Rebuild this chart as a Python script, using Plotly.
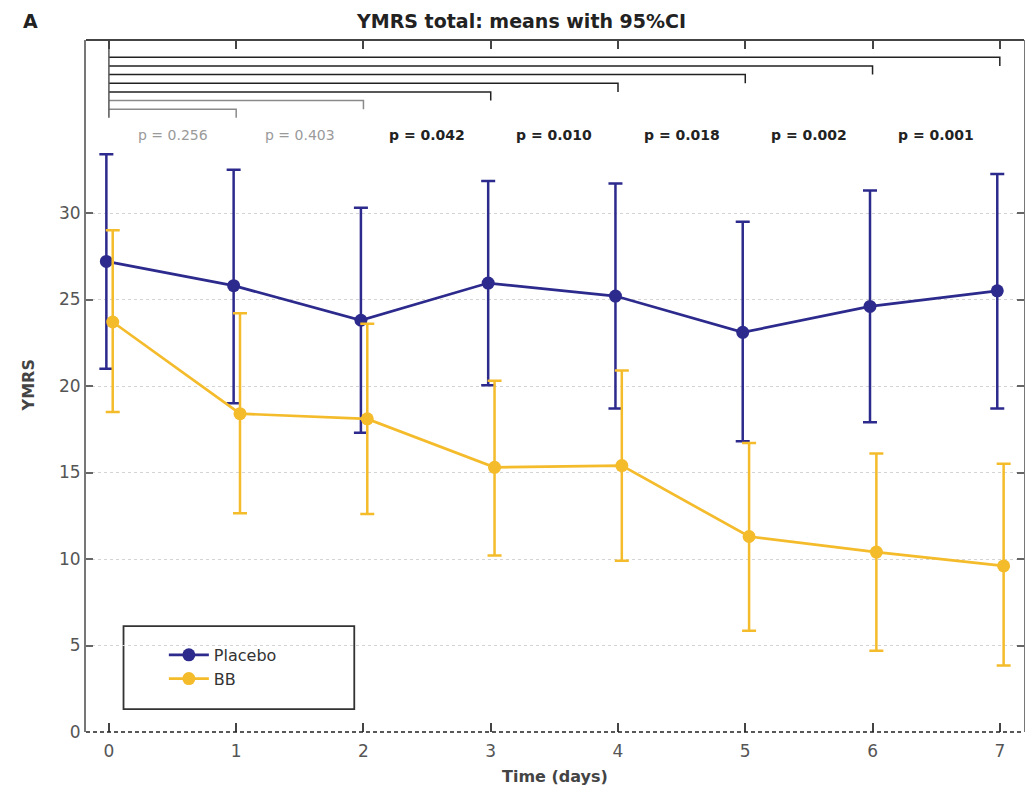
import plotly.graph_objects as go

# ---- data ----
days = [0, 1, 2, 3, 4, 5, 6, 7]
placebo_mean = [27.2, 25.8, 23.8, 25.95, 25.2, 23.1, 24.6, 25.5]
placebo_upper = [33.4, 32.5, 30.3, 31.85, 31.7, 29.5, 31.3, 32.25]
placebo_lower = [21.0, 19.0, 17.3, 20.05, 18.7, 16.8, 17.9, 18.7]
bb_mean = [23.7, 18.4, 18.1, 15.3, 15.4, 11.3, 10.4, 9.6]
bb_upper = [29.0, 24.2, 23.6, 20.3, 20.9, 16.7, 16.1, 15.5]
bb_lower = [18.5, 12.65, 12.6, 10.2, 9.9, 5.85, 4.7, 3.85]

compare_days = [1, 2, 3, 4, 5, 6, 7]
p_labels = ["p = 0.256", "p = 0.403", "p = 0.042", "p = 0.010", "p = 0.018", "p = 0.002", "p = 0.001"]
p_values = [0.256, 0.403, 0.042, 0.010, 0.018, 0.002, 0.001]
bracket_levels = [36.0, 36.5, 37.0, 37.5, 38.0, 38.5, 39.0]

y_ticks = [0, 5, 10, 15, 20, 25, 30]

# ---- style ----
BLUE = "#2c2a8c"
GOLD = "#f4bb2b"
FONT = "DejaVu Sans, Liberation Sans, Arial, sans-serif"
X0, X1 = -0.18, 7.19
Y0, Y1 = 0, 40
drop = 0.5
p_y = 34.5
placebo_off = -0.02
bb_off = 0.03

fig = go.Figure()

# brackets
for d, lvl, pv in zip(compare_days, bracket_levels, p_values):
    col = "#222222" if pv < 0.05 else "#8a8a8a"
    fig.add_trace(go.Scatter(
        x=[days[0], d, d], y=[lvl, lvl, lvl - drop], mode="lines",
        line=dict(color=col, width=1.5), showlegend=False, hoverinfo="skip"))
fig.add_trace(go.Scatter(
    x=[days[0], days[0]], y=[Y1, min(bracket_levels) - drop], mode="lines",
    line=dict(color="#555555", width=1.5), showlegend=False, hoverinfo="skip"))

def add_series(name, mean, up, lo, color, off):
    xs = [d + off for d in days]
    fig.add_trace(go.Scatter(
        x=xs, y=mean, name=name, mode="lines+markers",
        line=dict(color=color, width=2.7),
        marker=dict(color=color, size=13),
        error_y=dict(type="data", symmetric=False,
                     array=[u - m for u, m in zip(up, mean)],
                     arrayminus=[m - l for m, l in zip(mean, lo)],
                     color=color, thickness=2.5, width=7),
    ))

add_series("Placebo", placebo_mean, placebo_upper, placebo_lower, BLUE, placebo_off)
add_series("BB", bb_mean, bb_upper, bb_lower, GOLD, bb_off)

# p-value labels
for d, lab, pv in zip(compare_days, p_labels, p_values):
    sig = pv < 0.05
    fig.add_annotation(
        x=d - 0.5, y=p_y, xref="x", yref="y", showarrow=False,
        text=f"<b>{lab}</b>" if sig else lab,
        font=dict(family=FONT, size=14, color="#222222" if sig else "#9a9a9a"))

# frame lines
shapes = [
    dict(type="line", xref="paper", yref="paper", x0=0, x1=1, y0=1, y1=1,
         line=dict(color="#444444", width=2)),
    dict(type="line", xref="paper", yref="paper", x0=0, x1=1, y0=0, y1=0,
         line=dict(color="#222222", width=1.5, dash="4px,3px")),
    # legend box
    dict(type="rect", xref="paper", yref="paper", x0=0.040, x1=0.286, y0=0.033, y1=0.153,
         line=dict(color="#333333", width=1.8), fillcolor="white", layer="below"),
]

# page body has an 8px margin: figure is sized/margined so the plot area
# lands at x 86..1026, y 40..732 of the window
fig.update_layout(
    width=1025, height=785,
    margin=dict(l=78, r=7, t=32, b=61),
    paper_bgcolor="white", plot_bgcolor="white",
    font=dict(family=FONT, color="#555555"),
    shapes=shapes,
    showlegend=True,
    legend=dict(x=0.083, y=0.136, xanchor="left", yanchor="top",
                bgcolor="rgba(0,0,0,0)", borderwidth=0,
                font=dict(family=FONT, size=16, color="#333333"),
                tracegroupgap=0, itemwidth=40),
    xaxis=dict(range=[X0, X1], tickmode="array", tickvals=days,
               ticktext=[str(d) for d in days],
               showgrid=False, zeroline=False, showline=False,
               ticks="inside", ticklen=9, tickwidth=1.5, tickcolor="#444444",
               mirror="allticks",
               tickfont=dict(family=FONT, size=17, color="#555555"),
               ticklabelstandoff=7),
    yaxis=dict(range=[Y0, Y1], tickmode="array", tickvals=y_ticks,
               showgrid=True, gridcolor="#d4d4d4", griddash="dot", gridwidth=1,
               zeroline=False, showline=True, linecolor="#777777", linewidth=2,
               mirror="allticks",
               ticks="inside", ticklen=7, tickwidth=1.5, tickcolor="#666666",
               tickfont=dict(family=FONT, size=17, color="#555555")),
)

fig.add_annotation(x=0.464, y=1 + 19 / 692, xref="paper", yref="paper", showarrow=False,
                   xanchor="center", yanchor="middle",
                   text="<b>YMRS total: means with 95%CI</b>",
                   font=dict(family=FONT, size=19, color="#222222"))
fig.add_annotation(x=-0.0596, y=1 + 19 / 692, xref="paper", yref="paper", showarrow=False,
                   xanchor="center", yanchor="middle",
                   text="<b>A</b>", font=dict(family=FONT, size=19, color="#222222"))
fig.add_annotation(x=-0.0617, y=0.501, xref="paper", yref="paper", showarrow=False,
                   xanchor="center", yanchor="middle",
                   text="<b>YMRS</b>", textangle=-90,
                   font=dict(family=FONT, size=16, color="#444444"))
fig.add_annotation(x=0.5, y=-0.0636, xref="paper", yref="paper", showarrow=False,
                   xanchor="center", yanchor="middle",
                   text="<b>Time (days)</b>",
                   font=dict(family=FONT, size=16, color="#444444"))

fig.write_html("out.html")
